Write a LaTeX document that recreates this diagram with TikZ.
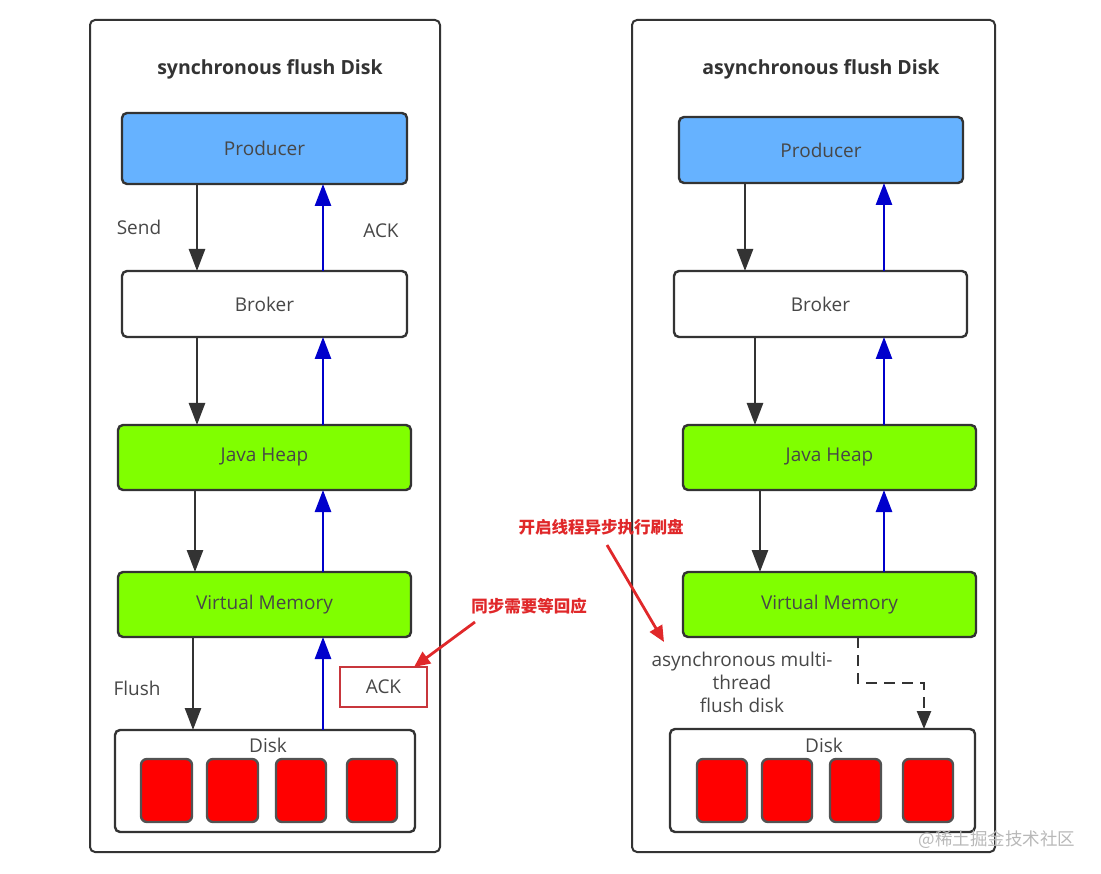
\documentclass[tikz,border=0pt]{standalone}
\usepackage{fontspec}
\setmainfont{Open Sans}
\newfontfamily\cjk{Noto Sans CJK SC}
\usetikzlibrary{arrows.meta}
\definecolor{pblue}{HTML}{66B2FF}
\definecolor{vgreen}{HTML}{80FF00}
\definecolor{dred}{HTML}{FF0000}
\definecolor{edge}{HTML}{333333}
\definecolor{ablue}{HTML}{0000CC}
\definecolor{ared}{HTML}{E0282A}
\definecolor{boxred}{HTML}{C8363C}
\tikzset{
  panel/.style={draw=edge, line width=2pt, rounded corners=5pt},
  blk/.style={draw=edge, line width=2.4pt, rounded corners=5pt, font=\fontsize{19}{22}\selectfont, text=edge!90},
  cell/.style={draw=edge!85, line width=2.4pt, fill=dred, rounded corners=6pt},
  darr/.style={draw=edge, line width=2.6pt, -{Triangle[width=16pt,length=22pt]}},
  uarr/.style={draw=ablue, line width=2.6pt, -{Triangle[width=16pt,length=22pt]}},
  lbl/.style={font=\fontsize{19}{22}\selectfont, text=edge!90},
  ttl/.style={font=\bfseries\fontsize{19.5}{22}\selectfont, text=edge},
  cn/.style={font=\cjk\bfseries\fontsize{16.5}{19}\selectfont, text=ared},
  rarr/.style={draw=ared, line width=2.8pt, -{Triangle[width=14pt,length=16pt]}},
}
\begin{document}
\begin{tikzpicture}[x=1pt,y=-1pt]
\useasboundingbox (0,0) rectangle (1101,874);
% ===== left panel =====
\draw[panel] (90,20) rectangle (440,852);
\node[ttl] (lt) at (270,69) {synchronous flush Disk};
\draw[blk, fill=pblue] (122,113) rectangle (407,184) node[midway] (lprod) {Producer};
\draw[blk, fill=white] (122,271) rectangle (407,337) node[midway] (lbrok) {Broker};
\draw[blk, fill=vgreen] (118,425) rectangle (411,490) node[midway] (lheap) {Java Heap};
\draw[blk, fill=vgreen] (118,572) rectangle (411,637) node[midway] (lvm) {Virtual Memory};
\draw[blk, fill=white] (115,730) rectangle (415,832);
\node[lbl] (ldisk) at (268,745) {Disk};
\foreach \a/\b in {141/192,207/258,276/326,347/397}
  \draw[cell] (\a,759) rectangle (\b,822);
% coordinates
\coordinate (l1a) at (197,184); \coordinate (l1b) at (197,271);
\coordinate (l2a) at (323,271); \coordinate (l2b) at (323,184);
\coordinate (l3a) at (197,337); \coordinate (l3b) at (197,425);
\coordinate (l4a) at (323,425); \coordinate (l4b) at (323,337);
\coordinate (l5a) at (195,490); \coordinate (l5b) at (195,572);
\coordinate (l6a) at (323,572); \coordinate (l6b) at (323,490);
\coordinate (l7a) at (193,637); \coordinate (l7b) at (193,730);
\coordinate (l8a) at (323,730); \coordinate (l8b) at (323,637);
\draw[darr] (l1a) -- (l1b);
\draw[uarr] (l2a) -- (l2b);
\draw[darr] (l3a) -- (l3b);
\draw[uarr] (l4a) -- (l4b);
\draw[darr] (l5a) -- (l5b);
\draw[uarr] (l6a) -- (l6b);
\draw[darr] (l7a) -- (l7b);
\draw[uarr] (l8a) -- (l8b);
\node[lbl] (lsend) at (139,227) {Send};
\node[lbl] (lack) at (381,231) {ACK};
\node[lbl] (lflush) at (137,688) {Flush};
\node[lbl, draw=boxred, line width=2pt, minimum width=87pt, minimum height=40pt, inner sep=0pt] (ackbox) at (383.5,687) {ACK};
\node[cn] (cn1) at (529,606) {同步需要等回应};
\coordinate (r1s) at (475,622);
\draw[rarr] (r1s) -- ([xshift=-14pt,yshift=-1pt]ackbox.north east);
% ===== right panel =====
\draw[panel] (632,20) rectangle (995,852);
\node[ttl] (rt) at (821,69) {asynchronous flush Disk};
\draw[blk, fill=pblue] (679,117) rectangle (963,183) node[midway] (rprod) {Producer};
\draw[blk, fill=white] (674,271) rectangle (967,337) node[midway] (rbrok) {Broker};
\draw[blk, fill=vgreen] (683,425) rectangle (976,490) node[midway] (rheap) {Java Heap};
\draw[blk, fill=vgreen] (683,572) rectangle (976,637) node[midway] (rvm) {Virtual Memory};
\draw[blk, fill=white] (670,729) rectangle (975,832);
\node[lbl] (rdisk) at (824,745) {Disk};
\foreach \a/\b in {697/747,762/812,830/881,903/953}
  \draw[cell] (\a,759) rectangle (\b,822);
\coordinate (r1a) at (745,183); \coordinate (r1b) at (745,271);
\coordinate (r2a) at (884,271); \coordinate (r2b) at (884,183);
\coordinate (r3a) at (755,337); \coordinate (r3b) at (755,425);
\coordinate (r4a) at (884,425); \coordinate (r4b) at (884,337);
\coordinate (r5a) at (760,490); \coordinate (r5b) at (760,572);
\coordinate (r6a) at (884,572); \coordinate (r6b) at (884,490);
\draw[darr] (r1a) -- (r1b);
\draw[uarr] (r2a) -- (r2b);
\draw[darr] (r3a) -- (r3b);
\draw[uarr] (r4a) -- (r4b);
\draw[darr] (r5a) -- (r5b);
\draw[uarr] (r6a) -- (r6b);
\coordinate (dsa) at (858,637); \coordinate (dsb) at (924,729);
\draw[draw=edge, line width=2.4pt, -{Triangle[width=14pt,length=18pt]}, dash pattern=on 11pt off 7pt] (dsa) -- (858,683) -- (924,683) -- (dsb);
\node[lbl, align=center, inner sep=0pt, font=\fontsize{19}{23}\selectfont] (rnote) at (742,682) {asynchronous multi-\\thread\\flush disk};
\node[cn] (cn2) at (601,527) {开启线程异步执行刷盘};
\coordinate (r2s) at (607,545); \coordinate (r2e) at (664,642);
\draw[rarr] (r2s) -- (r2e);
% watermark
\node[font=\cjk\fontsize{17.5}{20}\selectfont, text=black!28] (wm) at (997,840) {@稀土掘金技术社区};
\end{tikzpicture}
\end{document}
